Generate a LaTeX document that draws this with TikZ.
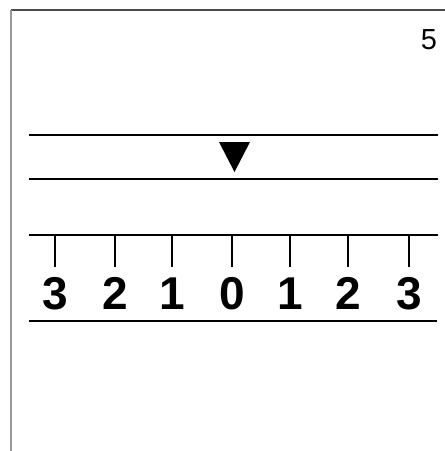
\documentclass[tikz,border=0pt]{standalone}
\usepackage{fontspec}
\setmainfont{Liberation Sans}
\begin{document}
\begin{tikzpicture}[x=1pt,y=-1pt,
  rule/.style={line width=2.8pt},
  tick/.style={line width=1.7pt},
  num/.style={font=\fontsize{46}{46}\selectfont\bfseries, inner sep=0pt, anchor=base},
  frame/.style={line width=1.2pt, draw=black!55}]
\useasboundingbox (0,0) rectangle (445,451);
\fill[white] (0,0) rectangle (445,451);
% frame edges
\coordinate (tl) at (11,10);
\coordinate (tr) at (445,10);
\coordinate (bl) at (11,451);
\draw[frame, draw=black!70] (tl) -- (tr);
\draw[frame, draw=black!40] (tl) -- (bl);
% page number
\node[font=\fontsize{29}{29}\selectfont, inner sep=0pt, anchor=base] (pg) at (429,49) {5};
% lines
\coordinate (a1) at (29,135); \coordinate (a2) at (438,135);
\coordinate (b1) at (29,179); \coordinate (b2) at (438,179);
\coordinate (c1) at (29,235); \coordinate (c2) at (438,235);
\coordinate (d1) at (29,321); \coordinate (d2) at (437,321);
\draw[rule] (a1) -- (a2);
\draw[rule] (b1) -- (b2);
\draw[rule] (c1) -- (c2);
\draw[rule] (d1) -- (d2);
% pointer
\fill (219,142) -- (250,142) -- (234.5,172) -- cycle;
% ticks and numbers
\foreach \x/\n [count=\i] in {55/3,115/2,172/1,232/0,290/1,348/2,409/3}{
  \draw[tick] (\x,235) -- (\x,267);
  \node[num] (n\i) at (\x,309) {\n};
}
\end{tikzpicture}
\end{document}
